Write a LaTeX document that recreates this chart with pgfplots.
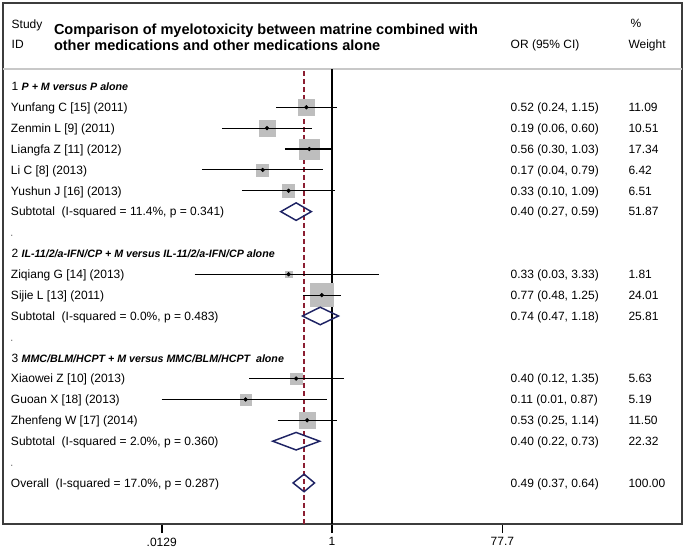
\documentclass[border=0pt]{standalone}
\usepackage{pgfplots}
\pgfplotsset{compat=1.18}
\usepackage{pgfplotstable}
\usepackage{fontspec}
\setmainfont{Liberation Sans}
\definecolor{sqgray}{RGB}{190,190,190}
\definecolor{navy}{RGB}{30,35,100}
\definecolor{refred}{RGB}{140,30,50}
\definecolor{framegray}{RGB}{60,60,60}
\definecolor{sepgray}{RGB}{200,200,200}
\newcommand\fs{\fontsize{9}{11}\selectfont}
\newcommand\gh{\fontsize{8}{10}\selectfont\bfseries\itshape}
% one study/subtotal row of text: row, label, OR (CI), weight
\newcommand\R[4]{%
  \node at (-321,#1+0.206) {#2};
  \node at (178.7,#1+0.206) {#3};
  \node at (296.5,#1+0.206) {#4};}

\pgfplotstableread{
row or   lo     hi   w
1   0.52 0.24   1.15 11.09
2   0.19 0.06   0.60 10.51
3   0.56 0.30   1.03 17.34
4   0.17 0.036  0.79 6.42
5   0.33 0.10   1.09 6.51
9   0.33 0.03   3.33 1.81
10  0.77 0.48   1.25 24.01
14  0.40 0.12   1.35 5.63
15  0.11 0.0129 0.87 5.19
16  0.53 0.25   1.14 11.50
}\studies

\begin{document}
\begin{tikzpicture}
\begin{axis}[
  scale only axis, width=509.25pt, height=390.75pt,
  xmode=log, xmin=2.237e-4, xmax=7644,
  ymin=-3.996, ymax=20.968, y dir=reverse,
  axis line style={framegray, line width=1.1pt},
  xtick={0.0129,1,77.7}, xticklabels={.0129,1,77.7},
  xtick pos=left, xtick align=outside, major tick length=6.75pt,
  major tick style={black, line width=1.2pt},
  xminorticks=false, ytick=\empty,
  xticklabel style={font=\fs},
  clip=false, clip mode=individual,
  box/.style={only marks, mark=square*, mark options={draw=sqgray, fill=sqgray}, forget plot},
  ci/.style={black, line width=0.9pt, forget plot},
]
% header separator
\draw[sepgray, line width=0.8pt] (axis cs:2.237e-4,-0.834) -- (axis cs:7644,-0.834);
% reference lines
\addplot[refred, line width=0.9pt, dash pattern=on 3.75pt off 2.25pt] coordinates {(0.49,-0.75) (0.49,20.968)};
\addplot[black, line width=1.1pt] coordinates {(1,-0.834) (1,20.968)};
% weight boxes (half side = 1.8pt * sqrt(weight))
\addplot[box, mark size=5.99pt] coordinates {(0.52,1)};
\addplot[box, mark size=5.84pt] coordinates {(0.19,2)};
\addplot[box, mark size=7.50pt] coordinates {(0.56,3)};
\addplot[box, mark size=4.56pt] coordinates {(0.17,4)};
\addplot[box, mark size=4.59pt] coordinates {(0.33,5)};
\addplot[box, mark size=2.42pt] coordinates {(0.33,9)};
\addplot[box, mark size=8.60pt] coordinates {(0.77,10)};
\addplot[box, mark size=4.27pt] coordinates {(0.40,14)};
\addplot[box, mark size=4.10pt] coordinates {(0.11,15)};
\addplot[box, mark size=6.10pt] coordinates {(0.53,16)};
% confidence intervals
\addplot[ci] coordinates {(0.24,1) (1.15,1)};
\addplot[ci] coordinates {(0.06,2) (0.60,2)};
\addplot[ci] coordinates {(0.30,3) (1.03,3)};
\addplot[ci] coordinates {(0.036,4) (0.79,4)};
\addplot[ci] coordinates {(0.10,5) (1.09,5)};
\addplot[ci] coordinates {(0.03,9) (3.33,9)};
\addplot[ci] coordinates {(0.48,10) (1.25,10)};
\addplot[ci] coordinates {(0.12,14) (1.35,14)};
\addplot[ci] coordinates {(0.0129,15) (0.87,15)};
\addplot[ci] coordinates {(0.25,16) (1.14,16)};
% point estimates
\addplot[only marks, mark=*, mark size=1.4pt, black] table[x=or, y=row] {\studies};
% pooled diamonds
\addplot[navy, line width=1.1pt] coordinates {(0.27,6) (0.40,5.58) (0.59,6) (0.40,6.42)} -- cycle;
\addplot[navy, line width=1.1pt] coordinates {(0.47,11) (0.74,10.58) (1.18,11) (0.74,11.42)} -- cycle;
\addplot[navy, line width=1.1pt] coordinates {(0.22,17) (0.40,16.58) (0.73,17) (0.40,17.42)} -- cycle;
\addplot[navy, line width=1.1pt] coordinates {(0.37,19) (0.49,18.58) (0.64,19) (0.49,19.42)} -- cycle;
\coordinate (R0) at (axis cs:1,0);
\end{axis}

\begin{scope}[shift={(R0)}, x=0.75pt, y=-15.6525pt,
  every node/.style={inner sep=0pt, outer sep=0pt, anchor=base west, font=\fs}]
% header
\node at (-320.3,-2.798) {Study};
\node at (-320.3,-1.840) {ID};
\node[font=\fontsize{10.9}{12}\selectfont\bfseries] at (-278,-2.463) {Comparison of myelotoxicity between matrine combined with};
\node[font=\fontsize{10.9}{12}\selectfont\bfseries] at (-278,-1.744) {other medications and other medications alone};
\node at (178.7,-1.840) {OR (95\% CI)};
\node at (298.5,-2.846) {\%};
\node at (296.5,-1.840) {Weight};
% group 1
\node at (-320.3,0.206) {1 {\gh P + M versus P alone}};
\R{1}{Yunfang C [15] (2011)}{0.52 (0.24, 1.15)}{11.09}
\R{2}{Zenmin L [9] (2011)}{0.19 (0.06, 0.60)}{10.51}
\R{3}{Liangfa Z [11] (2012)}{0.56 (0.30, 1.03)}{17.34}
\R{4}{Li C [8] (2013)}{0.17 (0.04, 0.79)}{6.42}
\R{5}{Yushun J [16] (2013)}{0.33 (0.10, 1.09)}{6.51}
\R{6}{Subtotal\ \ (I-squared = 11.4\%, p = 0.341)}{0.40 (0.27, 0.59)}{51.87}
\node[text=gray] at (-322,7.206) {.};
% group 2
\node at (-320.3,8.206) {2 {\gh IL-11/2/a-IFN/CP + M versus IL-11/2/a-IFN/CP alone}};
\R{9}{Ziqiang G [14] (2013)}{0.33 (0.03, 3.33)}{1.81}
\R{10}{Sijie L [13] (2011)}{0.77 (0.48, 1.25)}{24.01}
\R{11}{Subtotal\ \ (I-squared = 0.0\%, p = 0.483)}{0.74 (0.47, 1.18)}{25.81}
\node[text=gray] at (-322,12.206) {.};
% group 3
\node at (-320.3,13.206) {3 {\gh MMC/BLM/HCPT + M versus MMC/BLM/HCPT\ \ alone}};
\R{14}{Xiaowei Z [10] (2013)}{0.40 (0.12, 1.35)}{5.63}
\R{15}{Guoan X [18] (2013)}{0.11 (0.01, 0.87)}{5.19}
\R{16}{Zhenfeng W [17] (2014)}{0.53 (0.25, 1.14)}{11.50}
\R{17}{Subtotal\ \ (I-squared = 2.0\%, p = 0.360)}{0.40 (0.22, 0.73)}{22.32}
\node[text=gray] at (-322,18.206) {.};
\R{19}{Overall\ \ (I-squared = 17.0\%, p = 0.287)}{0.49 (0.37, 0.64)}{100.00}
\end{scope}

\pgfresetboundingbox
\begin{scope}[shift={(R0)}, x=0.75pt, y=-15.6525pt]
\useasboundingbox (-332,-4.140) rectangle (353,22.166);
\end{scope}
\end{tikzpicture}
\end{document}
